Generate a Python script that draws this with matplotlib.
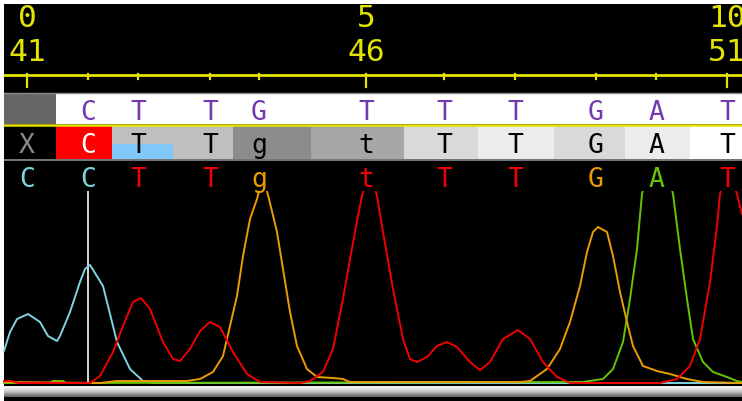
import numpy as np
import matplotlib.pyplot as plt
from matplotlib.patches import Rectangle

# base calls: scan position of each called base
base_pos = [27, 88, 138, 210, 259, 366, 444, 515, 596, 656, 727]
first_num = 41
ref_seq = ["", "C", "T", "T", "G", "T", "T", "T", "G", "A", "T"]
read_seq = ["X", "C", "T", "T", "g", "t", "T", "T", "G", "A", "T"]
call_seq = ["C", "C", "T", "T", "g", "t", "T", "T", "G", "A", "T"]
quals = [None, 30, 30, 30, 22, 26, 34, 37, 34, 37, 40]
mismatch_idx = [1]
flagged_idx = [2]
cursor_idx = 1

# trace samples (scan, signal); tall peaks run past the top of the panel
c_x = [4, 10, 17, 28, 40, 48, 57, 60, 70, 80, 85, 90, 103, 117, 130, 143, 153, 742]
c_y = [33, 52, 65, 70, 62, 48, 43, 48, 72, 102, 115, 119, 98, 42, 15, 3, 1, 1]

t_x = [4, 12, 18, 90, 100, 113, 123, 133, 141, 150, 163, 173, 180, 190, 200, 210,
       220, 233, 247, 260, 300, 310, 323, 333, 343, 350, 358, 362, 369, 377, 383,
       393, 403, 410, 417, 427, 437, 447, 457, 470, 480, 490, 503, 518, 530, 543,
       557, 570, 660, 677, 690, 700, 710, 717, 720, 728, 737, 742]
t_y = [3, 3, 1, 1, 8, 32, 58, 82, 86, 75, 42, 25, 23, 35, 53, 62,
       57, 32, 10, 2, 1, 3, 12, 35, 85, 125, 168, 188, 215, 188, 152,
       95, 45, 25, 22, 27, 38, 42, 37, 22, 14, 22, 45, 54, 45, 22,
       7, 1, 1, 5, 18, 45, 102, 158, 190, 215, 190, 170]

g_x = [4, 100, 117, 175, 187, 200, 213, 223, 230, 237, 243, 250, 257, 263, 269,
       277, 283, 290, 297, 307, 317, 333, 343, 350, 520, 530, 547, 560, 570, 580,
       587, 593, 598, 607, 613, 620, 627, 633, 643, 657, 670, 687, 703, 742]
g_y = [2, 1, 3, 3, 3, 5, 12, 28, 58, 88, 128, 165, 185, 208, 185,
       152, 115, 72, 38, 15, 7, 6, 5, 2, 2, 3, 15, 35, 62, 98,
       132, 152, 157, 152, 128, 92, 62, 38, 18, 13, 10, 5, 2, 1]

a_x = [4, 50, 53, 63, 66, 583, 603, 613, 623, 630, 637, 642, 650, 657, 665, 673,
       680, 687, 693, 703, 713, 727, 737, 742]
a_y = [1, 1, 3, 3, 1, 2, 5, 15, 42, 85, 135, 190, 222, 232, 222, 190,
       135, 85, 45, 22, 12, 7, 3, 2]

base_colors = {"A": "#66c400", "C": "#80d4e0", "G": "#eb9c00", "T": "#f00000"}
yellow = "#e4e400"
purple = "#7438b0"
mono = "DejaVu Sans Mono"

W, H = 742, 402
fig = plt.figure(figsize=(W / 100, H / 100), dpi=100, facecolor="white")

# header layer in pixel units
ax = fig.add_axes([0, 0, 1, 1])
ax.set_axis_off()
ax.add_patch(Rectangle((4, 5), W - 4, H - 5, color="black", zorder=0))

n = len(base_pos)
edges = [4] + [(base_pos[i] + base_pos[i + 1]) / 2 - 1.5 for i in range(n - 1)] + [W]

# ruler
ax.plot([4, W], [75.5, 75.5], color=yellow, lw=2, zorder=2)
for i, x in enumerate(base_pos):
    major = i % 5 == 0
    ax.plot([x, x], [75, 88 if major else 80], color=yellow, lw=1.6, zorder=2)
    if major:
        ax.text(x, 27, str(i), color=yellow, fontsize=22.5, family=mono,
                ha="center", va="baseline", zorder=3)
        ax.text(x, 61, str(first_num + i), color=yellow, fontsize=22.5, family=mono,
                ha="center", va="baseline", zorder=3)

# row 1: reference
for i in range(n):
    fc = "#666666" if ref_seq[i] == "" else "white"
    ax.add_patch(Rectangle((edges[i], 94), edges[i + 1] - edges[i], 31, color=fc, lw=0, zorder=1))
    ax.text(base_pos[i], 120, ref_seq[i], color=purple, fontsize=19, family=mono,
            ha="center", va="baseline", zorder=3)
ax.plot([4, W], [93.5, 93.5], color="#8c8c8c", lw=1, zorder=2)
ax.plot([4, W], [125.8, 125.8], color=yellow, lw=1.8, zorder=2)

# row 2: read, shaded by quality
for i in range(n):
    if quals[i] is None:
        fc, tc = "black", "#8a8a8a"
    elif i in mismatch_idx:
        fc, tc = "#ff0000", "white"
    else:
        fc, tc = str(quals[i] / 40), "black"
    ax.add_patch(Rectangle((edges[i], 127), edges[i + 1] - edges[i], 33, color=fc, lw=0, zorder=1))
    if i in flagged_idx:
        ax.add_patch(Rectangle((edges[i], 145), edges[i + 1] - edges[i], 15,
                               color="#80c8fa", lw=0, zorder=1.5))
    ax.text(base_pos[i], 153, read_seq[i], color=tc, fontsize=19, family=mono,
            ha="center", va="baseline", zorder=3)
ax.plot([4, W], [160.5, 160.5], color="#7a7a7a", lw=1.4, zorder=2)

# row 3: base calls coloured by base
for i in range(n):
    ax.text(base_pos[i], 187, call_seq[i], color=base_colors[call_seq[i].upper()],
            fontsize=19, family=mono, ha="center", va="baseline", zorder=3)

# scroll bar
shade = np.array([0.93, 0.93, 0.9, 0.86, 0.82, 0.76, 0.7, 0.62, 0.55, 0.47, 0.4])[:, None]
ax.imshow(shade, extent=(4, W, 398, 387), aspect="auto", cmap="gray",
          vmin=0, vmax=1, zorder=2)

# white frame on top/left
ax.add_patch(Rectangle((0, 0), W, 5, color="white", lw=0, zorder=10))
ax.add_patch(Rectangle((0, 0), 4, H, color="white", lw=0, zorder=10))
ax.set_xlim(0, W)
ax.set_ylim(H, 0)

# trace layer (clipped at its top edge)
top = 193
tr = fig.add_axes([0, (H - 385) / H, 1, top / H])
tr.set_axis_off()
tr.patch.set_alpha(0)
tr.axvline(base_pos[cursor_idx], 0, 1, color="#e8e8e8", lw=1.3)
tr.plot(c_x, c_y, color=base_colors["C"], lw=1.4)
tr.plot(a_x, a_y, color=base_colors["A"], lw=1.4)
tr.plot(g_x, g_y, color=base_colors["G"], lw=1.4)
tr.plot(t_x, t_y, color=base_colors["T"], lw=1.4)
tr.set_xlim(0, W)
tr.set_ylim(0, top)

fig.savefig("out.png", dpi=100, facecolor="white")
plt.close()
